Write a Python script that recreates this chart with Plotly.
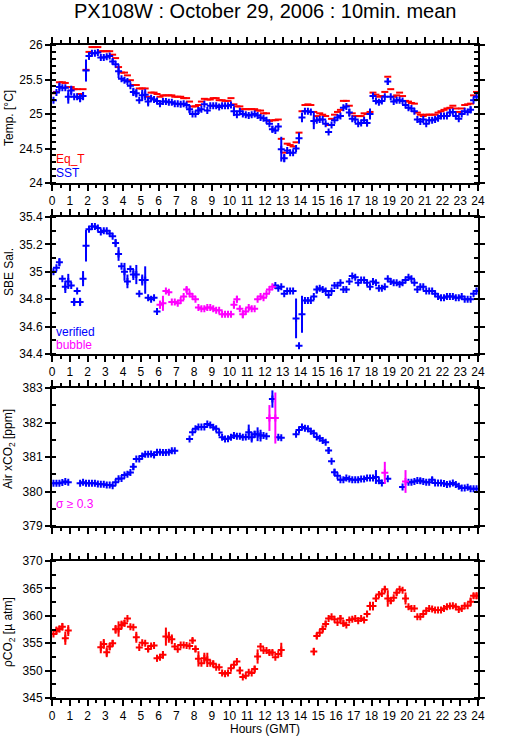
import plotly.graph_objects as go

N = 144
# centres of the 10-minute bins, in hours (GMT)
HOURS = [(k + 0.5) / 6.0 for k in range(N)]

SST = [25.20, 25.31, 25.39, 25.38, 25.38, 25.25, 25.34, 25.25, 25.25, 25.23,
       25.26, 25.63, 25.84, 25.88, 25.88, 25.89, 25.82, 25.82, 25.83, 25.84,
       25.76, 25.72, 25.62, 25.51, 25.49, 25.47, 25.41, 25.32, 25.30, 25.20,
       25.27, 25.28, 25.18, 25.23, 25.21, 25.19, 25.15, 25.18, 25.18, 25.17,
       25.17, 25.15, 25.15, 25.14, 25.15, 25.13, 25.07, 25.00, 25.00, 25.05,
       25.07, 25.14, 25.05, 25.12, 25.12, 25.12, 25.10, 25.12, 25.12, 25.12,
       25.13, 25.04, 24.99, 25.04, 25.00, 24.99, 24.98, 24.99, 25.00, 24.98,
       24.95, 24.94, 24.91, 24.86, 24.78, 24.76, 24.82, 24.49, 24.36, 24.47,
       24.44, 24.44, 24.50, 24.65, 24.95, 25.04, 25.04, 25.03, 24.90, 24.91,
       24.92, 24.92, 24.86, 24.74, 24.84, 24.91, 24.95, 24.97, 25.09, 25.11,
       25.02, 24.93, 24.92, 24.86, 24.87, 24.91, 24.87, 25.00, 25.26, 25.19,
       25.17, 25.19, 25.25, 25.47, 25.25, 25.18, 25.20, 25.20, 25.19, 25.13,
       25.09, 25.08, 25.04, 24.92, 24.89, 24.92, 24.86, 24.91, 24.91, 24.92,
       24.94, 24.97, 24.97, 24.97, 25.02, 25.03, 24.97, 24.93, 25.00, 25.04,
       25.03, 25.06, 25.20, 25.25]
SST_ERR = {2: 0.065, 5: 0.1, 6: 0.07, 9: 0.06, 10: 0.06, 11: 0.16, 12: 0.055,
           20: 0.04, 22: 0.1, 27: 0.06, 28: 0.06, 30: 0.08, 31: 0.08, 32: 0.07,
           46: 0.06, 49: 0.05, 61: 0.07, 74: 0.05, 77: 0.18, 78: 0.06, 83: 0.08,
           84: 0.07, 88: 0.12, 100: 0.06, 106: 0.05, 107: 0.08, 113: 0.05, 141: 0.05}

EQ_T = [25.30, 25.32, 25.46, 25.46, 25.45, 25.39, 25.39, 25.36, 25.36, 25.29,
        25.36, 25.64, 25.90, 25.97, 25.97, 25.97, 25.91, 25.91, 25.91, 25.91,
        25.86, 25.81, 25.68, 25.60, 25.60, 25.56, 25.49, 25.42, 25.42, 25.37,
        25.37, 25.37, 25.25, 25.31, 25.31, 25.29, 25.25, 25.27, 25.27, 25.27,
        25.27, 25.25, 25.25, 25.25, 25.23, 25.23, 25.18, 25.11, 25.11, 25.13,
        25.18, 25.22, 25.21, 25.21, 25.23, 25.23, 25.20, 25.20, 25.19, 25.19,
        25.23, 25.14, 25.11, 25.11, 25.07, 25.07, 25.07, 25.07, 25.07, 25.05,
        25.05, 25.01, 25.01, 24.90, 24.91, 24.91, 24.92, 24.64, 24.44, 24.57,
        24.55, 24.53, 24.59, 24.73, 25.04, 25.13, 25.14, 25.13, 25.03, 24.97,
        25.01, 24.99, 24.97, 24.84, 24.93, 24.99, 25.03, 25.06, 25.19, 25.19,
        25.12, 25.01, 24.97, 24.97, 24.97, 25.01, 25.00, 25.03, 25.31, 25.28,
        25.25, 25.26, 25.32, 25.54, 25.36, 25.25, 25.27, 25.31, 25.26, 25.19,
        25.18, 25.16, 25.15, 25.02, 24.99, 24.97, 24.99, 24.99, 24.99, 24.99,
        25.02, 25.04, 25.06, 25.08, 25.09, 25.12, 25.08, 25.03, 25.08, 25.13,
        25.14, 25.15, 25.27, 25.32]

SAL = [35.00, 35.03, 35.07, 34.95, 34.89, 34.93, 34.90, 34.78, 34.86, 34.78,
       34.95, 35.19, 35.31, 35.33, 35.33, 35.32, 35.29, 35.30, 35.30, 35.28,
       35.26, 35.21, 35.13, 35.04, 35.00, 34.93, 35.02, 34.98, 34.98, 34.84,
       34.94, 34.94, 34.81, 34.80, 34.81, 34.71, 34.76, 34.77, 34.86, 34.85,
       34.78, 34.78, 34.77, 34.79, 34.82, 34.87, 34.84, 34.82, 34.80, 34.74,
       34.73, 34.73, 34.74, 34.74, 34.73, 34.72, 34.72, 34.69, 34.69, 34.69,
       34.69, 34.76, 34.80, 34.73, 34.69, 34.71, 34.74, 34.73, 34.73, 34.80,
       34.82, 34.81, 34.84, 34.87, 34.89, 34.90, 34.88, 34.89, 34.84, 34.86,
       34.86, 34.86, 34.66, 34.46, 34.69, 34.79, 34.79, 34.79, 34.82, 34.87,
       34.88, 34.87, 34.86, 34.83, 34.86, 34.90, 34.90, 34.92, 34.87, 34.87,
       34.93, 34.97, 34.96, 34.92, 34.94, 34.94, 34.92, 34.89, 34.93, 34.92,
       34.88, 34.88, 34.89, 34.95, 34.93, 34.92, 34.92, 34.91, 34.92, 34.94,
       34.96, 34.95, 34.92, 34.87, 34.89, 34.89, 34.86, 34.86, 34.86, 34.84,
       34.82, 34.81, 34.81, 34.82, 34.82, 34.82, 34.81, 34.81, 34.82, 34.80,
       34.80, 34.80, 34.84, 34.86]
SAL_ERR = {2: 0.03, 4: 0.045, 5: 0.055, 7: 0.03, 9: 0.03, 10: 0.055, 11: 0.115,
           21: 0.03, 22: 0.05, 24: 0.065, 25: 0.05, 27: 0.04, 28: 0.07, 30: 0.04,
           31: 0.1, 36: 0.03, 37: 0.055, 45: 0.02, 61: 0.03, 62: 0.025, 64: 0.03,
           82: 0.145, 84: 0.135, 89: 0.03}
SAL_BUBBLE = list(range(36, 75))

XCO2 = ([380.24, 380.24, 380.24, 380.26, 380.29, 380.27]
        + [None] * 3
        + [380.24, 380.27, 380.24, 380.24, 380.24, 380.24, 380.22, 380.21, 380.21, 380.19,
           380.19, 380.17, 380.27, 380.37, 380.38, 380.48, 380.50, 380.55, 380.72, 380.94,
           380.94, 381.03, 381.08, 381.08, 381.09, 381.06, 381.14, 381.14, 381.13, 381.13,
           381.14, 381.18, 381.18]
        + [None] * 4
        + [381.52, 381.72, 381.82, 381.87, 381.87, 381.87, 381.96, 381.93, 381.86, 381.82,
           381.71, 381.57, 381.52, 381.53, 381.57, 381.62, 381.60, 381.60, 381.57, 381.58,
           381.72, 381.57, 381.66, 381.66, 381.62, 381.62, 381.60, 382.13, 382.68, 382.13,
           381.57, 381.56]
        + [None] * 4
        + [381.66, 381.78, 381.87, 381.83, 381.82, 381.75, 381.69, 381.58, 381.54, 381.48,
           381.43, 381.19, 380.88, 380.56, 380.46, 380.34, 380.34, 380.39, 380.36, 380.34,
           380.34, 380.34, 380.36, 380.36, 380.39, 380.39, 380.39, 380.42, 380.31, 380.25,
           380.54, 380.37]
        + [None] * 4
        + [380.13, 380.29, 380.27, 380.27, 380.29, 380.32, 380.31, 380.29, 380.27, 380.27,
           380.34, 380.25, 380.25, 380.25, 380.23, 380.20, 380.22, 380.25, 380.20, 380.15,
           380.10, 380.10, 380.12, 380.08, 380.08, 380.08])
XCO2_ERR = {27: 0.1, 66: 0.22, 67: 0.15, 68: 0.1, 69: 0.2, 70: 0.17, 73: 0.375,
            74: 0.25, 75: 0.74, 93: 0.1, 95: 0.1, 109: 0.2, 112: 0.32, 119: 0.33,
            124: 0.08, 128: 0.08}
XCO2_HIGH_SIGMA = [73, 75, 112, 119]

PCO2 = ([356.68, 357.29, 357.59, 358.00, 355.90, 357.30]
        + [None] * 10
        + [354.26, 354.87, 353.35, 354.38, 354.99, 357.53, 357.59, 358.32, 358.62, 359.53,
           358.01, 357.90, 356.08, 354.20, 355.10, 354.99, 353.96, 354.50, 354.56, 352.26,
           352.45, 352.87, 356.20, 356.08, 355.70, 354.38, 353.90, 354.69, 354.69, 354.56,
           354.50, 355.47, 353.96, 352.14, 351.36, 352.26, 351.96, 351.36, 351.23, 350.63,
           350.63, 349.54, 349.42, 349.54, 350.45, 351.05, 351.66, 350.02, 348.81, 349.06,
           349.72, 349.54, 350.27, 352.57, 354.38, 353.66, 353.66, 353.29, 353.29, 352.45,
           353.05, 353.78]
        + [None] * 10
        + [353.47, 356.32, 356.90, 357.60, 358.50, 359.53, 359.83, 359.35, 358.80, 359.53,
           358.62, 358.32, 359.23, 359.35, 359.53, 359.10, 359.53, 359.23, 360.31, 361.77,
           361.77, 363.16, 363.89, 364.07, 364.85, 363.16, 362.74, 363.28, 364.19, 364.85,
           364.67, 363.16, 361.65, 361.34, 361.34, 359.83, 359.83, 360.31, 360.92, 361.34,
           361.22, 361.04, 361.04, 361.04, 361.34, 361.65, 361.77, 361.83, 361.65, 361.16,
           361.34, 361.83, 361.83, 362.55, 363.64, 363.64])
PCO2_ERR = {1: 0.75, 2: 0.6, 3: 0.7, 4: 1.2, 5: 1.0, 16: 1.1, 17: 0.9, 18: 0.9, 19: 0.7,
            20: 0.6, 21: 0.8, 22: 1.4, 23: 0.8, 24: 0.6, 28: 1.0, 32: 0.6, 35: 0.6,
            37: 0.7, 38: 1.65, 39: 1.0, 40: 0.9, 47: 0.5, 48: 0.6, 49: 1.4, 51: 1.0,
            52: 1.3, 54: 0.6, 63: 0.7, 68: 0.6, 69: 1.3, 73: 0.5, 74: 0.5, 77: 1.3,
            88: 0.7, 89: 0.6, 91: 0.6, 92: 0.6, 97: 0.6, 98: 0.6, 106: 0.5, 107: 0.8,
            108: 0.8, 109: 0.6, 112: 0.6, 113: 1.5, 114: 0.6, 116: 0.5, 119: 1.1,
            141: 0.8, 142: 0.5, 143: 0.6}

BLUE, RED, MAG = "#0000ff", "#ff0000", "#ff00ff"
FONT = "Liberation Sans, Arial, Helvetica, sans-serif"


def err_list(d):
    return [d.get(k, 0.0) for k in range(N)]


def split(vals, idx):
    s = set(idx)
    rest = [None if k in s else v for k, v in enumerate(vals)]
    flag = [v if k in s else None for k, v in enumerate(vals)]
    return rest, flag


def pts(y, err, color, xa, ya, symbol="cross-thin"):
    ey = dict(visible=False)
    if err is not None:
        ey = dict(type="data", array=err, visible=True, color=color, thickness=2, width=0)
    return go.Scatter(x=HOURS, y=y, mode="markers", xaxis=xa, yaxis=ya,
                      marker=dict(symbol=symbol, size=5, color=color,
                                  line=dict(color=color, width=2)),
                      error_y=ey, showlegend=False, hoverinfo="skip", cliponaxis=True)


sal_ok, sal_bub = split(SAL, SAL_BUBBLE)
x_ok, x_hi = split(XCO2, XCO2_HIGH_SIGMA)

fig = go.Figure()
fig.add_trace(pts(EQ_T, None, RED, "x", "y", symbol="line-ew"))
fig.add_trace(pts(SST, err_list(SST_ERR), BLUE, "x", "y"))
fig.add_trace(pts(sal_ok, err_list(SAL_ERR), BLUE, "x2", "y2"))
fig.add_trace(pts(sal_bub, err_list(SAL_ERR), MAG, "x2", "y2"))
fig.add_trace(pts(x_ok, err_list(XCO2_ERR), BLUE, "x3", "y3"))
fig.add_trace(pts(x_hi, err_list(XCO2_ERR), MAG, "x3", "y3"))
fig.add_trace(pts(PCO2, err_list(PCO2_ERR), RED, "x4", "y4"))

H_TOT = 653.0


def dom(top, bot):
    return [(698 - bot) / H_TOT, (698 - top) / H_TOT]


DOMS = [dom(45, 183), dom(217, 354), dom(388, 526), dom(561, 698)]
YR = [(24, 26, 0.5, 0.1), (34.4, 35.4, 0.2, 0.1), (379, 383, 1, 0.5), (345, 370, 5, 2.5)]

base = dict(showline=True, linecolor="black", linewidth=2, mirror="ticks",
            showgrid=False, zeroline=False, tickcolor="black", tickwidth=1.5,
            tickfont=dict(size=12, color="black", family=FONT))

layout = dict(width=515, height=739, autosize=False,
              margin=dict(l=52, r=37, t=45, b=41, pad=0),
              paper_bgcolor="white", plot_bgcolor="white",
              font=dict(family=FONT, size=12, color="black"))

for i in range(4):
    n = i + 1
    xs = "" if n == 1 else str(n)
    lo, hi, dt, mdt = YR[i]
    layout["xaxis" + xs] = dict(base, domain=[0, 1], anchor="y" + xs, range=[0, 24],
                                tickmode="linear", tick0=0, dtick=1,
                                ticks="outside", ticklen=6,
                                minor=dict(tick0=0, dtick=0.5, ticks="outside", ticklen=3,
                                           tickcolor="black", tickwidth=1.5),
                                showticklabels=(n != 3))
    layout["yaxis" + xs] = dict(base, domain=DOMS[i], anchor="x" + xs, range=[lo, hi],
                                tickmode="linear", tick0=lo, dtick=dt,
                                ticks="outside", ticklen=5,
                                minor=dict(tick0=lo, dtick=mdt, ticks="inside", ticklen=4,
                                           tickcolor="black", tickwidth=1.5))
    layout["yaxis" + str(n + 4)] = dict(base, overlaying="y" + xs, side="right",
                                        anchor="x" + xs, range=[lo, hi],
                                        tickmode="linear", tick0=lo, dtick=dt,
                                        ticks="inside", ticklen=5)

# top tick labels of the bottom panel
layout["xaxis5"] = dict(base, overlaying="x4", side="top", anchor="y4", range=[0, 24],
                        tickmode="linear", tick0=0, dtick=1, ticks="outside", ticklen=6,
                        showline=False, mirror=False)

fig.update_layout(**layout)


def ypx(p):
    return (698 - p) / H_TOT


def xpx(p):
    return (p - 52) / 426.0


ann = [
    dict(text="PX108W : October 29, 2006 : 10min. mean", x=0.5, y=ypx(11),
         font=dict(size=20)),
    dict(text="Temp. [°C]", x=xpx(9), y=ypx(118), textangle=-90),
    dict(text="SBE Sal.", x=xpx(9), y=ypx(272), textangle=-90),
    dict(text="Air xCO<sub>2</sub> [ppm]", x=xpx(9), y=ypx(449), textangle=-90),
    dict(text="ρCO<sub>2</sub> [µ atm]", x=xpx(9), y=ypx(632), textangle=-90),
    dict(text="Hours (GMT)", x=0.5, y=ypx(729)),
    dict(text="Eq_T", x=xpx(54), y=ypx(158.7), xanchor="left", font=dict(color=RED, size=12)),
    dict(text="SST", x=xpx(54), y=ypx(172.7), xanchor="left", font=dict(color=BLUE, size=12)),
    dict(text="verified", x=xpx(54), y=ypx(332.3), xanchor="left", font=dict(color=BLUE, size=12)),
    dict(text="bubble", x=xpx(54), y=ypx(345), xanchor="left", font=dict(color=MAG, size=12)),
    dict(text="σ ≥ 0.3", x=xpx(54), y=ypx(504), xanchor="left", font=dict(color=MAG, size=12)),
]
for a in ann:
    a.setdefault("xanchor", "center")
    a.update(xref="paper", yref="paper", yanchor="middle", showarrow=False)
    if "font" not in a:
        a["font"] = dict(size=12)
    a["font"].setdefault("family", FONT)
    a["font"].setdefault("color", "black")
fig.update_layout(annotations=ann)

fig.write_html("out.html", config={"displayModeBar": False},
               post_script="document.body.style.margin='0';document.body.style.padding='0';")
